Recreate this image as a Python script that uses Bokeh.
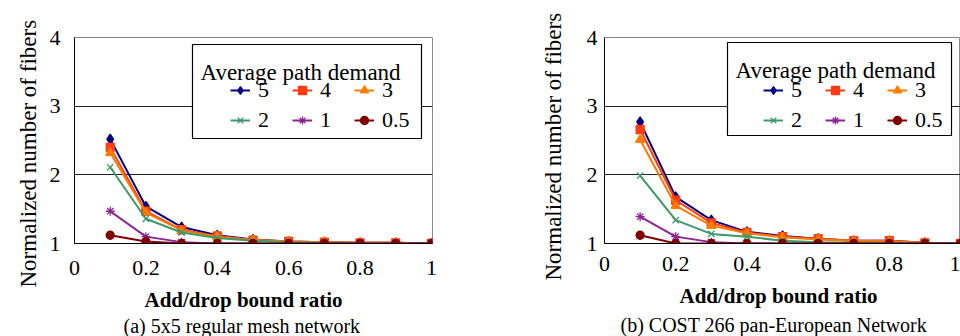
import math
from bokeh.plotting import figure
from bokeh.layouts import row
from bokeh.models import Range1d, FixedTicker, Label, BoxAnnotation, Legend, LegendItem, Title
from bokeh.embed import file_html
from bokeh.resources import INLINE

FONT = "Liberation Serif"

# ---------------- data ----------------
ratio = [0.1, 0.2, 0.3, 0.4, 0.5, 0.6, 0.7, 0.8, 0.9, 1.0]
demand_labels = ["5", "4", "3", "2", "1", "0.5"]

# (a) 5x5 regular mesh network
mesh_5 = [2.52, 1.54, 1.24, 1.12, 1.06, 1.03, 1.02, 1.01, 1.01, 1.00]
mesh_4 = [2.40, 1.47, 1.20, 1.11, 1.05, 1.03, 1.02, 1.01, 1.01, 1.00]
mesh_3 = [2.32, 1.45, 1.19, 1.10, 1.05, 1.03, 1.02, 1.01, 1.01, 1.00]
mesh_2 = [2.11, 1.36, 1.16, 1.08, 1.04, 1.02, 1.01, 1.00, 1.00, 1.00]
mesh_1 = [1.47, 1.10, 1.02, 1.00, 1.00, 1.00, 1.00, 1.00, 1.00, 1.00]
mesh_05 = [1.12, 1.03, 1.00, 1.00, 1.00, 1.00, 1.00, 1.00, 1.00, 1.00]

# (b) COST 266 pan-European network
cost_5 = [2.77, 1.68, 1.34, 1.17, 1.11, 1.07, 1.04, 1.04, 1.01, 1.00]
cost_4 = [2.66, 1.63, 1.30, 1.16, 1.10, 1.07, 1.04, 1.04, 1.01, 1.00]
cost_3 = [2.51, 1.55, 1.26, 1.15, 1.09, 1.06, 1.04, 1.03, 1.01, 1.00]
cost_2 = [1.99, 1.34, 1.14, 1.10, 1.04, 1.02, 1.01, 1.01, 1.00, 1.00]
cost_1 = [1.39, 1.10, 1.02, 1.00, 1.00, 1.00, 1.00, 1.00, 1.00, 1.00]
cost_05 = [1.12, 1.00, 1.00, 1.00, 1.00, 1.00, 1.00, 1.00, 1.00, 1.00]

x_ticks = [0, 0.2, 0.4, 0.6, 0.8, 1]
x_tick_labels = ["0", "0.2", "0.4", "0.6", "0.8", "1"]
y_ticks = [1, 2, 3, 4]
grid_ticks = [2, 3]

y_title = "Normalized number of fibers"
x_title = "Add/drop bound ratio"
legend_title = "Average path demand"
caption_a = "(a) 5x5 regular mesh network"
caption_b = "(b) COST 266 pan-European Network"

# ---------------- styles ----------------
colors = ["#000080", "#FF3B14", "#FF7A00", "#3A9A6A", "#8B2394", "#800000"]
markers = ["diamond", "square", "triangle", "x", "asterisk", "circle"]
msizes = [10, 8, 9, 9, 9, 8]


def make_panel(series, width, mb_left, mb_top, mb_bottom, mb_right, x_end,
               ylab_std, xlab_std, cfg):
    p = figure(width=width, height=336, x_range=Range1d(0, x_end),
               y_range=Range1d(1, 4), output_backend="svg",
               toolbar_location=None, min_border_left=mb_left,
               min_border_top=mb_top, min_border_bottom=mb_bottom,
               min_border_right=mb_right)
    p.background_fill_color = "white"
    p.border_fill_color = "white"
    p.outline_line_color = "#8a8a8a"

    p.xaxis.ticker = FixedTicker(ticks=x_ticks)
    p.xaxis.major_label_overrides = dict(zip(x_ticks, x_tick_labels))
    p.yaxis.ticker = FixedTicker(ticks=y_ticks)
    for ax, std in ((p.xaxis, xlab_std), (p.yaxis, ylab_std)):
        ax.major_tick_out = 0
        ax.major_tick_in = 0
        ax.minor_tick_out = 0
        ax.minor_tick_in = 0
        ax.axis_line_color = "black"
        ax.axis_line_width = 1
        ax.major_label_text_font = FONT
        ax.major_label_text_font_size = "22px"
        ax.major_label_text_color = "black"
        ax.major_label_standoff = std

    p.xgrid.visible = False
    p.ygrid.ticker = FixedTicker(ticks=grid_ticks)
    p.ygrid.grid_line_color = "#222222"
    p.ygrid.grid_line_width = 1

    items = []
    for vals, name, c, m, s in zip(series, demand_labels, colors, markers, msizes):
        lr = p.line(ratio, vals, line_color=c, line_width=2)
        sr = p.scatter(ratio, vals, marker=m, size=s, line_color=c,
                       fill_color=c, line_width=1.3)
        items.append(LegendItem(label=name, renderers=[lr, sr]))

    # legend frame and title
    box = BoxAnnotation(left=cfg["box"][0], right=cfg["box"][1],
                        top=cfg["box"][2], bottom=cfg["box"][3],
                        left_units="screen", right_units="screen",
                        top_units="screen", bottom_units="screen",
                        fill_color="white", fill_alpha=1.0,
                        line_color="black", line_width=1.2, line_alpha=1.0)
    p.add_layout(box)
    p.add_layout(Label(x=cfg["ltitle"][0], y=cfg["ltitle"][1],
                       x_units="screen", y_units="screen", text=legend_title,
                       text_font=FONT, text_font_size="23px",
                       text_color="black", text_align="left",
                       text_baseline="alphabetic"))
    leg = Legend(items=items, location=cfg["legend"], orientation="horizontal",
                 ncols=3, padding=0, margin=0, spacing=4, glyph_width=20,
                 glyph_height=24, label_height=24, label_width=30,
                 label_standoff=8, border_line_alpha=0,
                 background_fill_alpha=0, label_text_font=FONT,
                 label_text_font_size="22px", label_text_color="black")
    p.add_layout(leg, "center")

    # axis titles and caption
    p.add_layout(Title(text=y_title, align="left", offset=cfg["ytitle_off"],
                       standoff=cfg["ytitle_std"], text_font=FONT,
                       text_font_size="23px", text_font_style="normal",
                       text_color="black"), "left")
    p.add_layout(Title(text=x_title, align="left", offset=cfg["xtitle_off"],
                       standoff=cfg["xtitle_std"], text_font=FONT,
                       text_font_size="21px", text_font_style="bold",
                       text_color="black"), "below")
    p.add_layout(Title(text=cfg["ctext"], align="left", offset=cfg["cap_off"],
                       standoff=cfg["cap_std"], text_font=FONT,
                       text_font_size="20px", text_font_style="normal",
                       text_color="black"), "below")
    return p


cfg_a = dict(box=(118, 347, 199, 105), ltitle=(126, 171.5), legend=(156, 110),
             ytitle_off=-44, ytitle_std=12, xtitle_off=70, xtitle_std=16,
             cap_off=49, cap_std=-14, ctext=caption_a)
cfg_b = dict(box=(123, 347, 201, 108), ltitle=(131, 173.5), legend=(159, 110),
             ytitle_off=-37, ytitle_std=36, xtitle_off=75, xtitle_std=16,
             cap_off=16, cap_std=-8, ctext=caption_b)

p1 = make_panel([mesh_5, mesh_4, mesh_3, mesh_2, mesh_1, mesh_05],
                480, 74, 36, 93, 48, 1.003, 14, 17, cfg_a)
p2 = make_panel([cost_5, cost_4, cost_3, cost_2, cost_1, cost_05],
                480, 124, 37, 92, 0, 1.0, 7, 13, cfg_b)

layout = row(p1, p2)
open("out.html", "w").write(file_html(layout, INLINE))
